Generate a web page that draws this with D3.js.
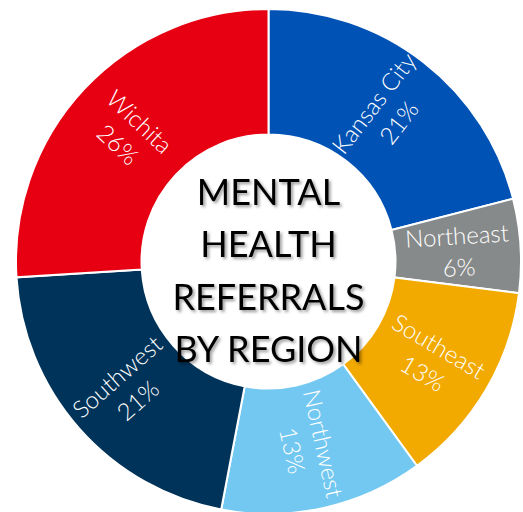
<!DOCTYPE html>
<html>
<head>
<meta charset="utf-8">
<script src="https://cdn.jsdelivr.net/npm/d3@7"></script>
<style>
  html, body { margin: 0; padding: 0; background: #fff; }
  svg { display: block; }
</style>
</head>
<body>
<div id="chart"></div>
<script>
const categories = ["Kansas City", "Northeast", "Southeast", "Northwest", "Southwest", "Wichita"]
const values = [21, 6, 13, 13, 21, 26]
const colors = ["#0052B4", "#878A8A", "#F2A900", "#73C8F1", "#003359", "#E60012"]
const titleLines = ["MENTAL", "HEALTH", "REFERRALS", "BY REGION"]

const width = 523, height = 512
const cx = 268.5, cy = 261.5
const outerR = 252.5, innerR = 127

const svg = d3.select("#chart")
    .append("svg")
    .attr("width", width)
    .attr("height", height)

// soft shadow for the title
const defs = svg.append("defs")
defs.append("filter")
    .attr("id", "shadow")
    .attr("x", "-20%").attr("y", "-20%")
    .attr("width", "140%").attr("height", "140%")
    .append("feDropShadow")
    .attr("dx", 2).attr("dy", 2)
    .attr("stdDeviation", 1.5)
    .attr("flood-color", "#000")
    .attr("flood-opacity", 0.4)

const g = svg.append("g")
    .attr("transform", `translate(${cx}, ${cy})`)

const data = categories.map((c, i) => ({ name: c, value: values[i], color: colors[i] }))

const pie = d3.pie()
    .sort(null)
    .value(d => d.value)

const arc = d3.arc()
    .innerRadius(innerR)
    .outerRadius(outerR)

const arcs = pie(data)

g.selectAll("path.slice")
    .data(arcs)
    .enter()
    .append("path")
    .attr("class", "slice")
    .attr("d", arc)
    .attr("fill", d => d.data.color)
    .attr("stroke", "#fff")
    .attr("stroke-width", 2)

/* labels rotated along the radius, flipped so they stay readable */
const labels = g.selectAll("g.label")
    .data(arcs)
    .enter()
    .append("g")
    .attr("class", "label")
    .attr("transform", d => {
        const [x, y] = arc.centroid(d)
        let a = (d.startAngle + d.endAngle) / 2 * 180 / Math.PI - 90
        if (a > 90) a -= 180
        return `translate(${x}, ${y}) rotate(${a})`
    })

labels.append("text")
    .attr("text-anchor", "middle")
    .attr("y", -5)
    .attr("fill", "#fff")
    .style("font-family", "Lato, 'Open Sans', sans-serif")
    .style("font-weight", 300)
    .style("font-size", "24px")
    .text(d => d.data.name)

labels.append("text")
    .attr("text-anchor", "middle")
    .attr("y", 26.5)
    .attr("fill", "#fff")
    .style("font-family", "Lato, 'Open Sans', sans-serif")
    .style("font-weight", 300)
    .style("font-size", "24px")
    .text(d => d.data.value + "%")

/* title in the hole */
svg.append("g")
    .attr("filter", "url(#shadow)")
    .selectAll("text")
    .data(titleLines)
    .enter()
    .append("text")
    .attr("x", cx)
    .attr("y", (d, i) => 205 + i * 52.3)
    .attr("text-anchor", "middle")
    .attr("fill", "#000")
    .style("font-family", "Lato, 'Open Sans', sans-serif")
    .style("font-size", "36px")
    .text(d => d)
</script>
</body>
</html>
